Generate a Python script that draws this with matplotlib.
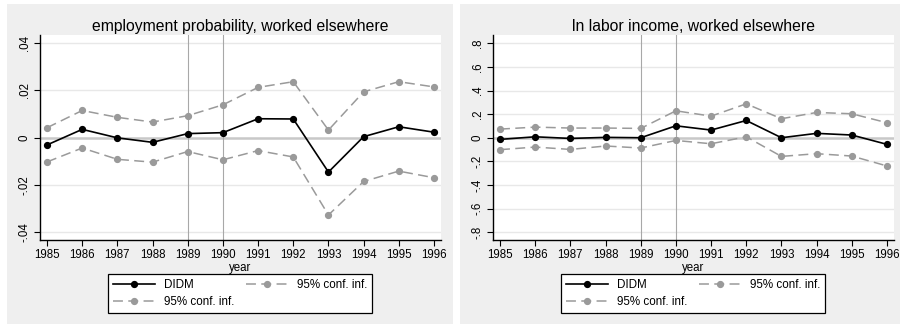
import matplotlib.pyplot as plt
from matplotlib.patches import Rectangle

plt.rcParams['font.family'] = ['Liberation Sans', 'DejaVu Sans']

years = [1985, 1986, 1987, 1988, 1989, 1990, 1991, 1992, 1993, 1994, 1995, 1996]

# employment probability, worked elsewhere
emp_didm = [-0.0031, 0.0035, -0.0001, -0.0020, 0.0017, 0.0021, 0.0080, 0.0079, -0.0146, 0.0004, 0.0046, 0.0023]
emp_upper = [0.0042, 0.0115, 0.0086, 0.0066, 0.0093, 0.0139, 0.0213, 0.0237, 0.0032, 0.0194, 0.0237, 0.0215]
emp_lower = [-0.0103, -0.0044, -0.0092, -0.0104, -0.0059, -0.0094, -0.0055, -0.0082, -0.0328, -0.0186, -0.0142, -0.0170]
emp_ticks = [-0.04, -0.02, 0.0, 0.02, 0.04]
emp_ticklabels = ['-.04', '-.02', '0', '.02', '.04']

# ln labor income, worked elsewhere
inc_didm = [-0.014, 0.008, -0.006, 0.003, 0.000, 0.101, 0.065, 0.146, 0.000, 0.037, 0.023, -0.056]
inc_upper = [0.073, 0.090, 0.082, 0.082, 0.079, 0.228, 0.183, 0.287, 0.161, 0.214, 0.203, 0.127]
inc_lower = [-0.101, -0.079, -0.099, -0.070, -0.087, -0.023, -0.051, 0.008, -0.158, -0.135, -0.155, -0.239]
inc_ticks = [-0.8, -0.6, -0.4, -0.2, 0.0, 0.2, 0.4, 0.6, 0.8]
inc_ticklabels = ['-.8', '-.6', '-.4', '-.2', '0', '.2', '.4', '.6', '.8']

event_years = [1989, 1990]

W, H = 900, 324
fig = plt.figure(figsize=(9, 3.24), dpi=100, facecolor='white')

BG = '#efefef'
CI = '#9a9a9a'


def panel(px0, px1, ax_left, title, didm, upper, lower, ticks, ticklabels, ylim):
    # gray graph region behind each panel
    fig.patches.append(Rectangle((px0 / W, 0), (px1 - px0) / W, (H - 4) / H,
                                 transform=fig.transFigure, facecolor=BG,
                                 edgecolor='none', zorder=-10))
    ax = fig.add_axes([ax_left / W, (H - 240) / H, 401 / W, 205 / H])
    ax.set_zorder(1)
    ax.set_facecolor('white')
    for t in ticks:
        if t != 0:
            ax.axhline(t, color='#e8e8e8', lw=1.0, zorder=1)
    ax.axhline(0, color='#c8c8c8', lw=1.8, zorder=1)
    for yr in event_years:
        ax.axvline(yr, color='#a8a8a8', lw=0.8, zorder=1)
    l1, = ax.plot(years, didm, color='black', lw=1.2, marker='o', ms=4.2, zorder=4)
    l2, = ax.plot(years, upper, color=CI, lw=1.1, ls=(0, (6.5, 3.5)), marker='o',
                  ms=4.2, zorder=3)
    l3, = ax.plot(years, lower, color=CI, lw=1.1, ls=(0, (6.5, 3.5)), marker='o',
                  ms=4.2, zorder=3)
    ax.set_xlim(1984.8, 1996.2)
    ax.set_ylim(*ylim)
    ax.set_xticks(years)
    ax.set_xticklabels([str(y) for y in years], fontsize=8.3)
    ax.set_yticks(ticks)
    ax.set_yticklabels(ticklabels, fontsize=8.3, rotation=90, va='center')
    ax.tick_params(length=4, width=0.8, pad=2.5, colors='black')
    for s in ['top', 'right']:
        ax.spines[s].set_visible(False)
    for s in ['left', 'bottom']:
        ax.spines[s].set_linewidth(1.0)
    ax.set_title(title, fontsize=11.3, pad=3)
    ax.set_xlabel('year', fontsize=8.3, labelpad=1)

    leg_x0 = ax_left + 68
    ax.legend([l1, l3, l2], ['DIDM', '95% conf. inf.', '95% conf. inf.'],
              ncol=2, loc='lower left', mode='expand',
              bbox_to_anchor=(leg_x0 / W, (H - 313) / H, 264 / W, 37 / H),
              bbox_transform=fig.transFigure, fontsize=8.4, frameon=True,
              fancybox=False, edgecolor='black', framealpha=1,
              handlelength=3.6, handletextpad=0.8, borderaxespad=0,
              labelspacing=0.45, borderpad=0.4, numpoints=1)
    ax.get_legend().get_frame().set_linewidth(0.9)
    return ax


panel(7, 453, 40, 'employment probability, worked elsewhere',
      emp_didm, emp_upper, emp_lower, emp_ticks, emp_ticklabels, (-0.0434, 0.0435))
panel(460, 900, 493, 'ln labor income, worked elsewhere',
      inc_didm, inc_upper, inc_lower, inc_ticks, inc_ticklabels, (-0.866, 0.87))

fig.savefig('out.png', dpi=100, facecolor='white')
